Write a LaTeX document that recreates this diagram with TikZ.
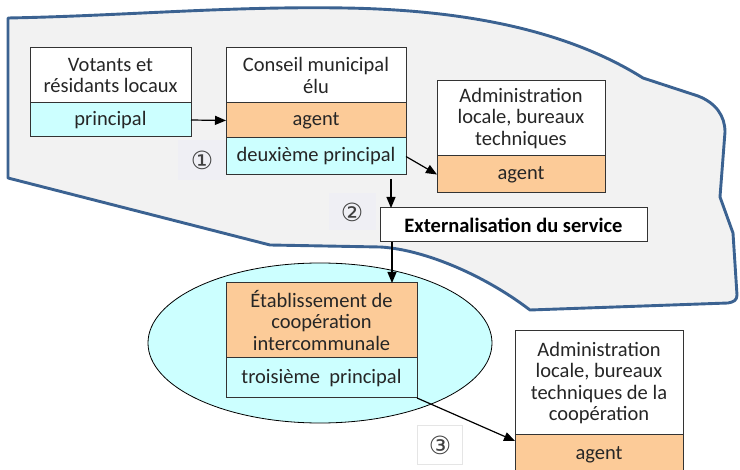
\documentclass[tikz,border=0pt]{standalone}
\usepackage{fontspec}
\setmainfont{Carlito}
\newfontfamily\circfont{DejaVu Sans}
\usetikzlibrary{arrows.meta,positioning,shapes.geometric,backgrounds}
\definecolor{zoneBlue}{HTML}{3B6291}
\definecolor{zoneGray}{HTML}{F2F2F2}
\definecolor{agentOrange}{HTML}{FCCB98}
\definecolor{princCyan}{HTML}{CCFFFF}
\definecolor{txtGray}{HTML}{262626}
\definecolor{markGray}{HTML}{EFEFF4}

\begin{document}
\begin{tikzpicture}[
x=1pt, y=-1pt,
every node/.style={font=\fontsize{20.5}{21.5}\selectfont, text=txtGray},
head/.style={draw=black!80, line width=1pt, fill=white, align=center, inner sep=0pt, outer sep=0pt, anchor=north west},
part/.style={draw=black!80, line width=1pt, align=center, inner sep=0pt, outer sep=0pt},
agentbox/.style={part, fill=agentOrange},
princbox/.style={part, fill=princCyan},
stepmark/.style={font=\circfont\fontsize{25}{25}\selectfont, text=black!75, minimum width=46pt, minimum height=40pt, inner sep=0pt},
arr/.style={-{Triangle[length=11pt,width=9pt]}, line width=1.2pt, black}
]
\useasboundingbox (0,0) rectangle (740,470);

% shaded zone of the municipality
\draw[zoneBlue, line width=2.9pt, fill=zoneGray, line join=round]
  (8,18) .. controls (120,16) and (230,6) .. (345,8)
  .. controls (470,10) and (570,32) .. (643,78) -- (698,96)
  .. controls (716,103) and (725,116) .. (725,132) -- (720,197) -- (733,233) -- (737,295)
  .. controls (737,300) and (734,302) .. (728,303) -- (530,310)
  .. controls (480,272) and (420,249) .. (380,247) -- (270,245) -- (8,178) -- cycle;

% step markers
\node[stepmark, fill=markGray, minimum width=48pt] (m1) at (202,160) {①};
\node[stepmark, fill=markGray, minimum width=47pt, minimum height=37pt] (m2) at (352,212) {②};
\node[stepmark, fill=white, draw=black!10, minimum width=45pt, minimum height=39pt] (m3) at (440,445) {③};

% voters
\node[head, minimum width=161pt, minimum height=55pt] (vot) at (30,48) {Votants et\\résidants locaux};
\node[princbox, minimum width=161pt, minimum height=34pt, below=0pt of vot] (votP) {principal};

% elected council
\node[head, minimum width=180pt, minimum height=55pt] (cons) at (226,48) {Conseil municipal\\élu};
\node[agentbox, minimum width=180pt, minimum height=35pt, below=0pt of cons] (consA) {agent};
\node[princbox, minimum width=180pt, minimum height=37pt, below=0pt of consA] (consP) {deuxième principal};

% local administration
\node[head, minimum width=168pt, minimum height=75pt] (adm) at (437,81) {Administration\\locale, bureaux\\techniques};
\node[agentbox, minimum width=168pt, minimum height=37pt, below=0pt of adm] (admA) {agent};

% outsourcing
\node[head, minimum width=267pt, minimum height=34pt, font=\fontsize{20.5}{21.5}\selectfont\bfseries, text=black] (ext) at (380,208) {Externalisation du service};

% intercommunal body
\node[ellipse, draw=black, line width=0.8pt, fill=princCyan, minimum width=344pt, minimum height=160pt] (coop) at (320,343) {};
\node[head, fill=agentOrange, minimum width=191pt, minimum height=75pt] (etab) at (226,283) {Établissement de\\coopération\\intercommunale};
\node[princbox, minimum width=191pt, minimum height=40pt, below=0pt of etab] (etabP) {troisième\ \ principal};

% administration of the cooperation
\node[head, minimum width=168pt, minimum height=104pt] (adm2) at (515,331) {Administration\\locale, bureaux\\techniques de la\\coopération};
\node[agentbox, minimum width=168pt, minimum height=40pt, below=0pt of adm2] (adm2A) {agent};

% links
\coordinate (c1) at ([xshift=-15pt,yshift=-4pt]consP.south east);
\coordinate (c2) at ([xshift=12pt]ext.south west);
\draw[arr] (votP.east) -- (consA.west);
\draw[arr] (consP.east) -- (admA.west);
\draw[arr] (c1) -- (c1 |- ext.north);
\draw[arr] (c2) -- (c2 |- etab.north);
\draw[arr] (etabP.south east) -- ([yshift=-6pt]adm2A.north west);

\end{tikzpicture}
\end{document}
